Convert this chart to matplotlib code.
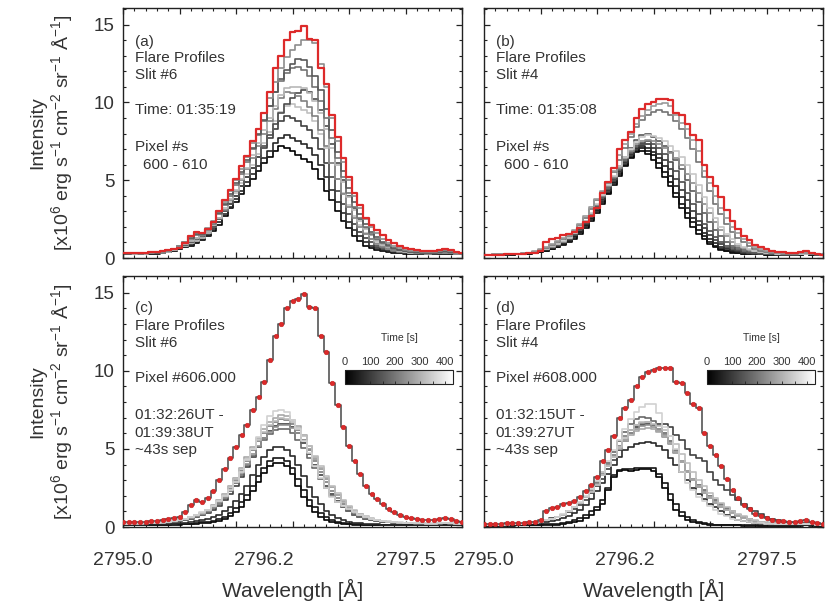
import matplotlib
matplotlib.use("Agg")
import matplotlib.pyplot as plt
from matplotlib.ticker import MultipleLocator
from matplotlib.colors import Normalize
from matplotlib.cm import ScalarMappable
from matplotlib.transforms import blended_transform_factory

plt.rcParams['font.family'] = ['Liberation Sans', 'DejaVu Sans']
plt.rcParams['mathtext.fontset'] = 'custom'
plt.rcParams['mathtext.rm'] = 'Liberation Sans'
plt.rcParams['mathtext.it'] = 'Liberation Sans:italic'
plt.rcParams['mathtext.bf'] = 'Liberation Sans:bold'

# ---------------- data ----------------
wavelength = [2795.00, 2795.05, 2795.10, 2795.15, 2795.20, 2795.25, 2795.30, 2795.35, 2795.40, 2795.45,
              2795.50, 2795.55, 2795.60, 2795.65, 2795.70, 2795.75, 2795.80, 2795.85, 2795.90, 2795.95,
              2796.00, 2796.05, 2796.10, 2796.15, 2796.20, 2796.25, 2796.30, 2796.35, 2796.40, 2796.45,
              2796.50, 2796.55, 2796.60, 2796.65, 2796.70, 2796.75, 2796.80, 2796.85, 2796.90, 2796.95,
              2797.00, 2797.05, 2797.10, 2797.15, 2797.20, 2797.25, 2797.30, 2797.35, 2797.40, 2797.45,
              2797.50, 2797.55, 2797.60, 2797.65, 2797.70, 2797.75, 2797.80, 2797.85, 2797.90, 2797.95,
              2798.00]

x_tick_values = [2795.0, 2796.25, 2797.5]
x_tick_labels = ["2795.0", "2796.2", "2797.5"]

# flare (peak) profile, slit 6, pixel 606, 01:35:19
red_slit6 = [0.30, 0.30, 0.31, 0.32, 0.34, 0.36, 0.40, 0.44, 0.50, 0.58,
             0.66, 0.95, 1.40, 1.70, 1.60, 1.85, 2.30, 3.00, 3.70, 4.40,
             5.10, 5.90, 6.55, 7.50, 8.30, 9.30, 10.70, 12.20, 13.00, 14.00,
             14.50, 14.60, 14.90, 14.10, 14.00, 12.20, 11.20, 9.20, 7.80, 6.40,
             5.20, 4.20, 3.40, 2.60, 2.10, 1.80, 1.50, 1.15, 0.95, 0.78,
             0.62, 0.55, 0.50, 0.46, 0.43, 0.43, 0.50, 0.60, 0.50, 0.38, 0.32]

# flare (peak) profile, slit 4, pixel 608, 01:35:08
red_slit4 = [0.20, 0.21, 0.21, 0.22, 0.23, 0.25, 0.26, 0.28, 0.30, 0.35,
             0.45, 1.00, 1.20, 1.30, 1.45, 1.55, 1.65, 1.90, 2.30, 2.70,
             3.20, 4.20, 4.90, 5.80, 7.00, 7.60, 8.10, 9.00, 9.60, 9.90,
             10.05, 10.20, 10.20, 10.15, 9.30, 9.20, 8.60, 7.90, 7.60, 6.00,
             5.20, 4.60, 3.90, 3.10, 2.40, 1.85, 1.40, 1.15, 0.85, 0.70,
             0.55, 0.45, 0.40, 0.37, 0.34, 0.32, 0.36, 0.42, 0.35, 0.26, 0.22]

# panel (a): slit 6, pixels 600-610 at 01:35:19
a0 = [0.25, 0.25, 0.25, 0.26, 0.26, 0.27, 0.28, 0.30, 0.36, 0.45,
      0.58, 0.68, 0.80, 0.94, 1.15, 1.40, 1.75, 2.15, 2.70, 3.20,
      3.60, 4.10, 4.60, 5.10, 5.60, 6.10, 6.50, 6.90, 7.20, 7.10,
      6.85, 6.60, 6.35, 6.20, 5.70, 5.10, 4.30, 3.70, 3.00, 2.40,
      1.90, 1.40, 1.10, 0.80, 0.62, 0.50, 0.42, 0.36, 0.32, 0.30,
      0.28, 0.27, 0.26, 0.26, 0.25, 0.25, 0.26, 0.28, 0.27, 0.25, 0.24]
a1 = [0.26, 0.26, 0.26, 0.27, 0.27, 0.28, 0.29, 0.31, 0.37, 0.47,
      0.60, 0.72, 0.86, 1.00, 1.20, 1.50, 1.85, 2.30, 2.80, 3.30,
      3.80, 4.30, 4.90, 5.40, 5.90, 6.40, 6.90, 7.40, 7.70, 7.90,
      7.70, 7.50, 7.30, 7.10, 6.60, 6.00, 5.20, 4.40, 3.60, 2.90,
      2.30, 1.80, 1.40, 1.05, 0.80, 0.62, 0.50, 0.42, 0.36, 0.32,
      0.30, 0.28, 0.27, 0.26, 0.26, 0.26, 0.28, 0.30, 0.28, 0.26, 0.25]
a2 = [0.26, 0.26, 0.27, 0.27, 0.28, 0.29, 0.30, 0.33, 0.39, 0.50,
      0.64, 0.78, 0.95, 1.10, 1.30, 1.60, 2.00, 2.50, 3.00, 3.50,
      4.00, 4.60, 5.20, 5.80, 6.50, 7.10, 7.70, 8.30, 8.80, 9.10,
      9.00, 8.80, 8.50, 8.20, 7.70, 7.00, 6.10, 5.20, 4.30, 3.50,
      2.80, 2.20, 1.70, 1.30, 1.00, 0.78, 0.62, 0.50, 0.42, 0.37,
      0.33, 0.30, 0.28, 0.27, 0.27, 0.28, 0.30, 0.32, 0.30, 0.27, 0.26]
a3 = [0.27, 0.27, 0.27, 0.28, 0.28, 0.29, 0.31, 0.34, 0.40, 0.50,
      0.65, 0.80, 0.95, 1.10, 1.30, 1.60, 2.00, 2.50, 3.00, 3.60,
      4.20, 4.80, 5.40, 6.00, 6.70, 7.40, 8.10, 8.80, 9.40, 9.80,
      9.90, 9.70, 9.50, 9.30, 8.80, 8.00, 7.10, 6.10, 5.10, 4.20,
      3.40, 2.70, 2.10, 1.60, 1.25, 0.95, 0.75, 0.60, 0.50, 0.43,
      0.38, 0.34, 0.31, 0.29, 0.28, 0.29, 0.31, 0.33, 0.31, 0.28, 0.27]
a4 = [0.27, 0.27, 0.28, 0.28, 0.29, 0.30, 0.32, 0.35, 0.42, 0.52,
      0.68, 0.85, 1.05, 1.25, 1.40, 1.65, 2.00, 2.50, 3.00, 3.50,
      4.00, 4.60, 5.20, 5.80, 6.50, 7.20, 7.90, 8.60, 9.30, 9.90,
      10.30, 10.60, 10.80, 10.70, 10.20, 9.50, 8.50, 7.30, 6.10, 5.00,
      4.00, 3.20, 2.50, 1.90, 1.50, 1.15, 0.90, 0.70, 0.57, 0.47,
      0.40, 0.35, 0.32, 0.30, 0.29, 0.30, 0.33, 0.36, 0.33, 0.29, 0.27]
a5 = [0.27, 0.27, 0.28, 0.28, 0.29, 0.30, 0.32, 0.35, 0.42, 0.52,
      0.70, 0.88, 1.10, 1.30, 1.45, 1.70, 2.10, 2.60, 3.10, 3.70,
      4.30, 5.00, 5.70, 6.40, 7.20, 8.00, 8.80, 9.60, 10.30, 10.70,
      10.60, 10.40, 10.10, 9.70, 9.10, 8.20, 7.20, 6.10, 5.10, 4.10,
      3.30, 2.60, 2.00, 1.55, 1.20, 0.92, 0.72, 0.58, 0.48, 0.41,
      0.36, 0.33, 0.30, 0.29, 0.28, 0.29, 0.32, 0.34, 0.31, 0.28, 0.27]
a6 = [0.28, 0.28, 0.28, 0.29, 0.30, 0.31, 0.33, 0.36, 0.43, 0.54,
      0.72, 0.90, 1.10, 1.30, 1.45, 1.70, 2.10, 2.60, 3.20, 3.80,
      4.40, 5.10, 5.80, 6.60, 7.40, 8.20, 9.00, 9.80, 10.50, 10.90,
      11.00, 11.00, 10.90, 10.60, 10.10, 9.30, 8.30, 7.10, 6.00, 4.90,
      3.90, 3.10, 2.40, 1.85, 1.45, 1.10, 0.85, 0.68, 0.55, 0.46,
      0.40, 0.35, 0.32, 0.30, 0.29, 0.30, 0.33, 0.36, 0.33, 0.29, 0.27]
a7 = [0.28, 0.28, 0.29, 0.29, 0.30, 0.32, 0.34, 0.38, 0.45, 0.56,
      0.75, 0.95, 1.20, 1.45, 1.50, 1.80, 2.20, 2.80, 3.40, 4.00,
      4.70, 5.40, 6.20, 7.00, 7.90, 8.80, 9.80, 10.70, 11.40, 11.90,
      12.20, 12.30, 12.10, 11.70, 11.00, 10.10, 9.00, 7.70, 6.40, 5.20,
      4.20, 3.30, 2.60, 2.00, 1.55, 1.20, 0.95, 0.75, 0.60, 0.50,
      0.43, 0.38, 0.34, 0.31, 0.30, 0.31, 0.35, 0.40, 0.35, 0.30, 0.28]
a8 = [0.28, 0.28, 0.29, 0.30, 0.31, 0.32, 0.35, 0.39, 0.46, 0.57,
      0.78, 1.00, 1.30, 1.55, 1.55, 1.85, 2.30, 2.90, 3.50, 4.10,
      4.80, 5.50, 6.30, 7.10, 8.00, 8.90, 9.80, 10.70, 11.50, 12.10,
      12.50, 12.80, 12.70, 12.30, 11.70, 10.80, 9.60, 8.20, 6.80, 5.60,
      4.50, 3.60, 2.80, 2.20, 1.70, 1.35, 1.05, 0.82, 0.65, 0.54,
      0.46, 0.40, 0.36, 0.33, 0.32, 0.33, 0.38, 0.45, 0.38, 0.32, 0.29]
a9 = [0.29, 0.29, 0.30, 0.31, 0.32, 0.34, 0.37, 0.41, 0.48, 0.58,
      0.80, 1.05, 1.40, 1.65, 1.60, 1.90, 2.40, 3.00, 3.60, 4.30,
      5.00, 5.70, 6.50, 7.40, 8.30, 9.30, 10.30, 11.30, 12.20, 12.90,
      13.40, 13.70, 14.00, 14.00, 13.80, 12.50, 11.00, 9.00, 7.50, 6.20,
      5.00, 4.00, 3.20, 2.50, 2.00, 1.60, 1.25, 0.95, 0.78, 0.64,
      0.54, 0.47, 0.42, 0.38, 0.36, 0.37, 0.44, 0.52, 0.44, 0.35, 0.30]
a_gray_levels = [0.0, 0.15, 0.25, 0.75, 0.30, 0.50, 0.72, 0.45, 0.35, 0.55]

# panel (b): slit 4, pixels 600-610 at 01:35:08
b0 = [0.20, 0.20, 0.20, 0.21, 0.21, 0.22, 0.23, 0.25, 0.28, 0.32,
      0.38, 0.45, 0.55, 0.68, 0.82, 1.00, 1.25, 1.55, 1.95, 2.40,
      2.90, 3.50, 4.10, 4.70, 5.30, 5.90, 6.40, 6.80, 6.90, 6.70,
      6.30, 5.80, 5.20, 4.60, 3.90, 3.20, 2.60, 2.00, 1.55, 1.20,
      0.90, 0.68, 0.52, 0.42, 0.35, 0.30, 0.27, 0.25, 0.24, 0.23,
      0.22, 0.22, 0.21, 0.21, 0.21, 0.21, 0.22, 0.23, 0.22, 0.21, 0.20]
b1 = [0.20, 0.20, 0.21, 0.21, 0.22, 0.22, 0.23, 0.25, 0.28, 0.33,
      0.40, 0.48, 0.58, 0.72, 0.88, 1.08, 1.35, 1.65, 2.05, 2.50,
      3.00, 3.60, 4.20, 4.80, 5.40, 6.00, 6.50, 6.90, 7.05, 6.90,
      6.60, 6.10, 5.50, 4.90, 4.20, 3.50, 2.90, 2.30, 1.80, 1.40,
      1.05, 0.80, 0.60, 0.47, 0.38, 0.32, 0.28, 0.26, 0.24, 0.23,
      0.22, 0.22, 0.21, 0.21, 0.21, 0.21, 0.22, 0.23, 0.22, 0.21, 0.20]
b2 = [0.20, 0.20, 0.21, 0.21, 0.22, 0.22, 0.23, 0.25, 0.29, 0.34,
      0.42, 0.50, 0.62, 0.76, 0.92, 1.12, 1.40, 1.70, 2.10, 2.60,
      3.10, 3.70, 4.30, 4.90, 5.50, 6.10, 6.60, 7.00, 7.20, 7.10,
      6.80, 6.40, 5.90, 5.30, 4.60, 3.90, 3.20, 2.60, 2.10, 1.60,
      1.25, 0.95, 0.72, 0.55, 0.44, 0.36, 0.31, 0.28, 0.26, 0.24,
      0.23, 0.22, 0.22, 0.21, 0.21, 0.21, 0.22, 0.24, 0.22, 0.21, 0.20]
b3 = [0.21, 0.21, 0.21, 0.22, 0.22, 0.23, 0.24, 0.26, 0.30, 0.35,
      0.44, 0.53, 0.65, 0.80, 0.96, 1.17, 1.45, 1.80, 2.20, 2.70,
      3.20, 3.80, 4.40, 5.00, 5.60, 6.20, 6.70, 7.10, 7.30, 7.35,
      7.10, 6.70, 6.30, 5.70, 5.10, 4.40, 3.70, 3.00, 2.40, 1.90,
      1.50, 1.15, 0.88, 0.67, 0.52, 0.42, 0.35, 0.30, 0.27, 0.25,
      0.24, 0.23, 0.22, 0.22, 0.21, 0.22, 0.23, 0.24, 0.23, 0.21, 0.20]
b4 = [0.21, 0.21, 0.22, 0.22, 0.23, 0.23, 0.24, 0.26, 0.30, 0.36,
      0.45, 0.55, 0.68, 0.84, 1.00, 1.20, 1.50, 1.85, 2.25, 2.75,
      3.30, 3.90, 4.50, 5.10, 5.70, 6.30, 6.80, 7.20, 7.40, 7.50,
      7.35, 7.05, 6.70, 6.20, 5.60, 4.90, 4.20, 3.50, 2.80, 2.20,
      1.75, 1.35, 1.05, 0.80, 0.62, 0.49, 0.40, 0.34, 0.30, 0.27,
      0.25, 0.24, 0.23, 0.22, 0.22, 0.22, 0.23, 0.25, 0.23, 0.22, 0.21]
b5 = [0.21, 0.21, 0.22, 0.22, 0.23, 0.24, 0.25, 0.27, 0.31, 0.37,
      0.47, 0.57, 0.70, 0.86, 1.02, 1.25, 1.55, 1.90, 2.30, 2.80,
      3.35, 3.95, 4.60, 5.20, 5.90, 6.50, 7.10, 7.60, 7.90, 7.95,
      7.80, 7.55, 7.20, 6.80, 6.30, 5.70, 5.00, 4.30, 3.60, 2.90,
      2.30, 1.80, 1.40, 1.05, 0.80, 0.62, 0.50, 0.41, 0.35, 0.31,
      0.28, 0.26, 0.25, 0.24, 0.23, 0.23, 0.24, 0.26, 0.24, 0.22, 0.21]
b6 = [0.22, 0.22, 0.22, 0.23, 0.23, 0.24, 0.25, 0.27, 0.31, 0.38,
      0.48, 0.58, 0.72, 0.88, 1.05, 1.28, 1.58, 1.95, 2.35, 2.85,
      3.40, 4.00, 4.60, 5.20, 5.80, 6.40, 6.90, 7.30, 7.55, 7.60,
      7.50, 7.30, 7.05, 6.75, 6.40, 5.95, 5.40, 4.80, 4.20, 3.50,
      2.90, 2.30, 1.80, 1.40, 1.05, 0.80, 0.62, 0.50, 0.42, 0.36,
      0.32, 0.29, 0.27, 0.25, 0.24, 0.24, 0.25, 0.27, 0.25, 0.23, 0.22]
b7 = [0.22, 0.22, 0.23, 0.23, 0.24, 0.24, 0.26, 0.28, 0.32, 0.39,
      0.50, 0.60, 0.74, 0.90, 1.08, 1.30, 1.60, 2.00, 2.40, 2.90,
      3.45, 4.05, 4.70, 5.30, 5.90, 6.50, 7.00, 7.45, 7.75, 7.90,
      7.85, 7.70, 7.50, 7.20, 6.90, 6.50, 6.00, 5.40, 4.70, 3.90,
      3.20, 2.60, 2.00, 1.55, 1.20, 0.92, 0.70, 0.55, 0.45, 0.38,
      0.33, 0.30, 0.27, 0.26, 0.25, 0.25, 0.26, 0.28, 0.26, 0.24, 0.22]
b8 = [0.22, 0.22, 0.23, 0.23, 0.24, 0.25, 0.27, 0.29, 0.34, 0.41,
      0.52, 0.65, 0.82, 1.00, 1.20, 1.42, 1.75, 2.15, 2.60, 3.15,
      3.70, 4.25, 4.80, 5.50, 6.30, 7.10, 7.80, 8.40, 8.90, 9.20,
      9.40, 9.50, 9.40, 9.20, 8.80, 8.30, 7.70, 7.00, 6.20, 5.20,
      4.30, 3.50, 2.80, 2.20, 1.70, 1.30, 1.00, 0.75, 0.58, 0.47,
      0.39, 0.34, 0.30, 0.28, 0.27, 0.27, 0.29, 0.32, 0.28, 0.25, 0.23]
b9 = [0.22, 0.22, 0.23, 0.24, 0.25, 0.26, 0.28, 0.30, 0.35, 0.43,
      0.55, 0.70, 0.90, 1.10, 1.30, 1.50, 1.80, 2.20, 2.70, 3.30,
      3.80, 4.30, 4.90, 5.60, 6.60, 7.30, 8.00, 8.60, 9.10, 9.50,
      9.75, 9.90, 9.95, 9.80, 9.20, 8.70, 8.30, 7.60, 6.90, 5.60,
      4.80, 4.00, 3.20, 2.60, 2.00, 1.60, 1.25, 0.95, 0.72, 0.57,
      0.46, 0.39, 0.34, 0.31, 0.29, 0.29, 0.31, 0.35, 0.30, 0.26, 0.23]
b_gray_levels = [0.0, 0.05, 0.12, 0.20, 0.30, 0.35, 0.55, 0.78, 0.45, 0.60]

# panel (c): slit 6, pixel 606, time series (~43 s cadence)
c0 = [0.12, 0.12, 0.12, 0.12, 0.13, 0.13, 0.13, 0.14, 0.14, 0.15,
      0.16, 0.17, 0.19, 0.21, 0.24, 0.27, 0.31, 0.38, 0.50, 0.70,
      0.97, 1.30, 1.70, 2.30, 2.90, 3.45, 3.90, 4.12, 4.12, 3.90,
      3.40, 2.65, 1.95, 1.35, 0.95, 0.65, 0.45, 0.33, 0.26, 0.21,
      0.18, 0.16, 0.15, 0.14, 0.13, 0.13, 0.12, 0.12, 0.12, 0.12,
      0.12, 0.12, 0.12, 0.12, 0.12, 0.12, 0.12, 0.13, 0.12, 0.12, 0.12]
c1 = [0.13, 0.13, 0.13, 0.13, 0.14, 0.14, 0.15, 0.15, 0.16, 0.17,
      0.18, 0.20, 0.22, 0.25, 0.29, 0.34, 0.40, 0.50, 0.65, 0.88,
      1.20, 1.60, 2.05, 2.65, 3.25, 3.80, 4.20, 4.40, 4.44, 4.25,
      3.80, 3.10, 2.40, 1.75, 1.25, 0.88, 0.62, 0.45, 0.34, 0.27,
      0.22, 0.19, 0.17, 0.16, 0.15, 0.14, 0.14, 0.13, 0.13, 0.13,
      0.13, 0.13, 0.13, 0.13, 0.13, 0.13, 0.13, 0.14, 0.13, 0.13, 0.13]
c2 = [0.15, 0.15, 0.15, 0.16, 0.16, 0.17, 0.18, 0.19, 0.20, 0.22,
      0.24, 0.27, 0.31, 0.36, 0.43, 0.52, 0.64, 0.80, 1.02, 1.30,
      1.65, 2.10, 2.65, 3.30, 3.95, 4.50, 4.90, 5.10, 5.13, 4.95,
      4.55, 3.95, 3.25, 2.55, 1.95, 1.45, 1.05, 0.76, 0.56, 0.42,
      0.33, 0.27, 0.23, 0.20, 0.18, 0.17, 0.16, 0.16, 0.15, 0.15,
      0.15, 0.15, 0.15, 0.15, 0.15, 0.15, 0.15, 0.16, 0.15, 0.15, 0.15]
c3 = [0.20, 0.20, 0.20, 0.21, 0.22, 0.23, 0.25, 0.27, 0.30, 0.34,
      0.38, 0.44, 0.52, 0.62, 0.74, 0.90, 1.10, 1.35, 1.70, 2.10,
      2.60, 3.20, 3.85, 4.50, 5.15, 5.70, 6.15, 6.45, 6.60, 6.60,
      6.40, 6.00, 5.40, 4.70, 4.00, 3.30, 2.65, 2.10, 1.65, 1.30,
      1.00, 0.78, 0.62, 0.50, 0.42, 0.36, 0.32, 0.29, 0.27, 0.25,
      0.24, 0.23, 0.22, 0.22, 0.21, 0.21, 0.22, 0.24, 0.22, 0.21, 0.20]
c5 = [0.20, 0.20, 0.21, 0.21, 0.22, 0.23, 0.25, 0.27, 0.30, 0.35,
      0.40, 0.47, 0.56, 0.67, 0.80, 0.98, 1.20, 1.48, 1.85, 2.30,
      2.80, 3.35, 3.95, 4.55, 5.10, 5.55, 5.95, 6.20, 6.30, 6.25,
      6.00, 5.60, 5.05, 4.40, 3.75, 3.10, 2.50, 2.00, 1.60, 1.28,
      1.00, 0.80, 0.64, 0.52, 0.43, 0.37, 0.32, 0.29, 0.27, 0.25,
      0.24, 0.23, 0.22, 0.22, 0.21, 0.21, 0.22, 0.24, 0.22, 0.21, 0.20]
c6 = [0.21, 0.21, 0.22, 0.22, 0.23, 0.24, 0.26, 0.28, 0.32, 0.37,
      0.43, 0.50, 0.60, 0.72, 0.86, 1.05, 1.28, 1.58, 1.98, 2.45,
      3.00, 3.60, 4.25, 4.90, 5.50, 6.00, 6.45, 6.75, 6.90, 6.85,
      6.60, 6.20, 5.60, 4.90, 4.20, 3.50, 2.85, 2.30, 1.85, 1.47,
      1.15, 0.92, 0.74, 0.60, 0.50, 0.42, 0.36, 0.32, 0.29, 0.27,
      0.25, 0.24, 0.23, 0.23, 0.22, 0.22, 0.23, 0.25, 0.23, 0.22, 0.21]
c7 = [0.21, 0.21, 0.22, 0.22, 0.23, 0.24, 0.26, 0.28, 0.32, 0.37,
      0.43, 0.50, 0.60, 0.72, 0.86, 1.05, 1.28, 1.58, 1.95, 2.40,
      2.90, 3.45, 4.05, 4.65, 5.20, 5.70, 6.10, 6.40, 6.50, 6.50,
      6.35, 6.05, 5.60, 5.00, 4.35, 3.70, 3.10, 2.55, 2.05, 1.65,
      1.30, 1.03, 0.82, 0.66, 0.54, 0.45, 0.38, 0.33, 0.30, 0.27,
      0.25, 0.24, 0.23, 0.23, 0.22, 0.22, 0.23, 0.25, 0.23, 0.22, 0.21]
c8 = [0.21, 0.21, 0.22, 0.22, 0.23, 0.24, 0.26, 0.29, 0.33, 0.38,
      0.45, 0.53, 0.63, 0.76, 0.92, 1.12, 1.38, 1.70, 2.10, 2.60,
      3.15, 3.80, 4.45, 5.10, 5.70, 6.25, 6.70, 7.00, 7.15, 7.10,
      6.85, 6.45, 5.90, 5.20, 4.50, 3.80, 3.15, 2.55, 2.05, 1.63,
      1.28, 1.00, 0.80, 0.64, 0.53, 0.44, 0.38, 0.33, 0.30, 0.27,
      0.25, 0.24, 0.23, 0.23, 0.22, 0.22, 0.23, 0.25, 0.23, 0.22, 0.21]
c9 = [0.21, 0.21, 0.22, 0.22, 0.23, 0.24, 0.26, 0.28, 0.32, 0.38,
      0.44, 0.52, 0.62, 0.75, 0.90, 1.10, 1.35, 1.65, 2.05, 2.55,
      3.10, 3.70, 4.35, 5.00, 5.55, 6.10, 6.50, 6.80, 6.95, 6.90,
      6.70, 6.35, 5.85, 5.20, 4.55, 3.90, 3.25, 2.65, 2.15, 1.72,
      1.36, 1.07, 0.85, 0.68, 0.56, 0.46, 0.39, 0.34, 0.31, 0.28,
      0.26, 0.25, 0.24, 0.23, 0.22, 0.22, 0.23, 0.25, 0.23, 0.22, 0.21]
c10 = [0.22, 0.22, 0.23, 0.23, 0.24, 0.25, 0.27, 0.30, 0.34, 0.40,
       0.46, 0.54, 0.65, 0.78, 0.93, 1.12, 1.35, 1.65, 2.00, 2.35,
       2.90, 3.55, 4.30, 5.00, 5.75, 6.50, 7.10, 7.45, 7.50, 7.35,
       6.85, 6.30, 5.50, 4.75, 3.90, 3.15, 2.50, 1.95, 1.60, 1.35,
       1.17, 0.98, 0.80, 0.64, 0.53, 0.45, 0.40, 0.36, 0.33, 0.30,
       0.28, 0.27, 0.26, 0.25, 0.24, 0.24, 0.25, 0.27, 0.25, 0.23, 0.22]
c_times = [0, 43, 86, 130, 216, 259, 302, 346, 389, 432]

# panel (d): slit 4, pixel 608, time series (~43 s cadence)
d0 = [0.08, 0.08, 0.08, 0.08, 0.09, 0.09, 0.10, 0.10, 0.11, 0.11,
      0.12, 0.13, 0.14, 0.16, 0.19, 0.23, 0.29, 0.37, 0.55, 0.80,
      1.07, 1.50, 2.35, 3.20, 3.60, 3.65, 3.60, 3.65, 3.70, 3.70,
      3.60, 3.20, 2.50, 1.75, 1.10, 0.70, 0.45, 0.32, 0.25, 0.20,
      0.16, 0.14, 0.12, 0.11, 0.10, 0.10, 0.09, 0.09, 0.09, 0.08,
      0.08, 0.08, 0.08, 0.08, 0.08, 0.08, 0.09, 0.10, 0.09, 0.08, 0.08]
d1 = [0.09, 0.09, 0.09, 0.10, 0.10, 0.10, 0.11, 0.12, 0.13, 0.14,
      0.15, 0.17, 0.19, 0.22, 0.27, 0.33, 0.42, 0.55, 0.75, 1.00,
      1.30, 1.75, 2.50, 3.30, 3.65, 3.70, 3.70, 3.75, 3.80, 3.80,
      3.75, 3.40, 2.80, 2.10, 1.45, 0.95, 0.62, 0.42, 0.30, 0.23,
      0.19, 0.16, 0.14, 0.13, 0.12, 0.11, 0.10, 0.10, 0.10, 0.09,
      0.09, 0.09, 0.09, 0.09, 0.09, 0.09, 0.10, 0.11, 0.10, 0.09, 0.09]
d2 = [0.12, 0.12, 0.13, 0.13, 0.14, 0.15, 0.16, 0.18, 0.20, 0.23,
      0.27, 0.32, 0.38, 0.46, 0.56, 0.70, 0.88, 1.10, 1.40, 1.80,
      2.30, 2.80, 3.40, 4.00, 4.50, 4.90, 5.10, 5.30, 5.40, 5.45,
      5.40, 5.20, 4.90, 4.40, 4.00, 3.50, 3.00, 2.50, 2.10, 1.80,
      1.50, 1.25, 1.00, 0.80, 0.62, 0.48, 0.38, 0.30, 0.25, 0.21,
      0.18, 0.16, 0.15, 0.14, 0.13, 0.13, 0.14, 0.15, 0.14, 0.13, 0.12]
d3 = [0.15, 0.15, 0.16, 0.16, 0.17, 0.18, 0.20, 0.22, 0.26, 0.30,
      0.36, 0.45, 0.55, 0.65, 0.78, 0.95, 1.15, 1.40, 1.75, 2.15,
      2.60, 3.10, 3.70, 4.30, 4.90, 5.50, 6.00, 6.40, 6.55, 6.60,
      6.55, 6.60, 6.60, 6.40, 5.90, 5.60, 5.00, 4.60, 4.40, 4.20,
      3.50, 3.00, 2.70, 2.40, 2.05, 1.75, 1.45, 1.20, 1.00, 0.82,
      0.66, 0.52, 0.42, 0.35, 0.30, 0.27, 0.27, 0.28, 0.26, 0.24, 0.22]
d5 = [0.14, 0.14, 0.15, 0.15, 0.16, 0.17, 0.19, 0.21, 0.24, 0.28,
      0.34, 0.42, 0.52, 0.64, 0.80, 1.00, 1.25, 1.55, 1.95, 2.40,
      2.90, 3.50, 4.10, 4.80, 5.50, 6.10, 6.60, 6.90, 7.05, 7.00,
      6.80, 6.50, 6.00, 5.50, 4.90, 4.20, 3.60, 3.10, 2.70, 2.35,
      2.00, 1.70, 1.45, 1.20, 1.00, 0.80, 0.64, 0.50, 0.40, 0.33,
      0.28, 0.24, 0.21, 0.19, 0.18, 0.17, 0.18, 0.20, 0.18, 0.16, 0.15]
d6 = [0.14, 0.14, 0.15, 0.15, 0.16, 0.17, 0.19, 0.21, 0.24, 0.28,
      0.34, 0.42, 0.52, 0.64, 0.80, 1.00, 1.25, 1.55, 1.90, 2.30,
      2.80, 3.40, 4.00, 4.60, 5.20, 5.80, 6.20, 6.50, 6.65, 6.70,
      6.55, 6.30, 5.90, 5.40, 4.80, 4.20, 3.60, 3.10, 2.65, 2.30,
      1.95, 1.65, 1.40, 1.15, 0.95, 0.77, 0.62, 0.50, 0.40, 0.33,
      0.28, 0.24, 0.21, 0.19, 0.18, 0.17, 0.18, 0.20, 0.18, 0.16, 0.15]
d7 = [0.14, 0.14, 0.15, 0.15, 0.16, 0.17, 0.19, 0.21, 0.24, 0.28,
      0.34, 0.42, 0.52, 0.64, 0.80, 1.00, 1.25, 1.55, 1.90, 2.30,
      2.75, 3.35, 3.95, 4.55, 5.10, 5.60, 6.00, 6.30, 6.45, 6.50,
      6.40, 6.15, 5.75, 5.30, 4.75, 4.15, 3.55, 3.00, 2.55, 2.20,
      1.85, 1.55, 1.30, 1.10, 0.90, 0.73, 0.59, 0.48, 0.39, 0.32,
      0.27, 0.23, 0.21, 0.19, 0.18, 0.17, 0.18, 0.20, 0.18, 0.16, 0.15]
d8 = [0.14, 0.14, 0.15, 0.15, 0.16, 0.17, 0.19, 0.21, 0.24, 0.28,
      0.34, 0.42, 0.52, 0.64, 0.80, 1.00, 1.25, 1.55, 1.90, 2.25,
      2.70, 3.30, 3.90, 4.50, 5.00, 5.50, 5.90, 6.15, 6.30, 6.35,
      6.30, 6.10, 5.80, 5.35, 4.80, 4.20, 3.60, 3.05, 2.60, 2.25,
      1.90, 1.60, 1.35, 1.12, 0.92, 0.75, 0.60, 0.48, 0.39, 0.32,
      0.27, 0.23, 0.21, 0.19, 0.18, 0.17, 0.18, 0.20, 0.18, 0.16, 0.15]
d9 = [0.15, 0.15, 0.15, 0.16, 0.16, 0.17, 0.19, 0.21, 0.24, 0.28,
      0.34, 0.42, 0.52, 0.64, 0.80, 1.00, 1.25, 1.55, 1.90, 2.25,
      2.70, 3.30, 3.90, 4.50, 5.10, 5.70, 6.20, 6.50, 6.70, 6.70,
      6.60, 6.45, 6.20, 5.80, 5.30, 4.70, 4.10, 3.50, 3.00, 2.60,
      2.20, 1.85, 1.55, 1.30, 1.05, 0.85, 0.68, 0.54, 0.43, 0.35,
      0.29, 0.25, 0.22, 0.20, 0.19, 0.18, 0.19, 0.21, 0.19, 0.17, 0.16]
d10 = [0.15, 0.15, 0.16, 0.16, 0.17, 0.18, 0.20, 0.22, 0.26, 0.30,
       0.36, 0.44, 0.54, 0.66, 0.82, 1.02, 1.28, 1.60, 2.00, 2.45,
       2.95, 3.55, 4.20, 4.90, 5.60, 6.30, 6.90, 7.35, 7.70, 7.85,
       7.85, 7.30, 6.40, 5.80, 5.00, 3.50, 2.80, 2.35, 1.95, 1.65,
       1.35, 1.08, 0.85, 0.68, 0.54, 0.44, 0.36, 0.30, 0.26, 0.23,
       0.21, 0.19, 0.18, 0.17, 0.17, 0.17, 0.18, 0.20, 0.18, 0.16, 0.15]
d_times = [0, 43, 86, 130, 216, 259, 302, 346, 389, 432]

panel_a_profiles = [a0, a1, a2, a3, a4, a5, a6, a7, a8, a9]
panel_b_profiles = [b0, b1, b2, b3, b4, b5, b6, b7, b8, b9]
panel_c_profiles = [c0, c1, c2, c3, c5, c6, c7, c8, c9, c10]
panel_d_profiles = [d0, d1, d2, d3, d5, d6, d7, d8, d9, d10]

panel_a_text = ["(a)", "Flare Profiles", "Slit #6", "Time: 01:35:19", "Pixel #s", "600 - 610"]
panel_b_text = ["(b)", "Flare Profiles", "Slit #4", "Time: 01:35:08", "Pixel #s", "600 - 610"]
panel_c_text = ["(c)", "Flare Profiles", "Slit #6", "Pixel #606.000", "01:32:26UT -", "01:39:38UT", "~43s sep"]
panel_d_text = ["(d)", "Flare Profiles", "Slit #4", "Pixel #608.000", "01:32:15UT -", "01:39:27UT", "~43s sep"]

time_max = 432
cbar_ticks = [0, 100, 200, 300, 400]

for arr in [red_slit6, red_slit4] + panel_a_profiles + panel_b_profiles + panel_c_profiles + panel_d_profiles:
    assert len(arr) == len(wavelength), len(arr)

# ---------------- figure ----------------
TXT = '#333333'
RED = '#dd2a2a'
fig = plt.figure(figsize=(8.27, 6.07), dpi=100)

W = 339 / 827
ax_a = fig.add_axes([123 / 827, 1 - 258 / 607, W, 250 / 607])
ax_b = fig.add_axes([484 / 827, 1 - 258 / 607, W, 250 / 607])
ax_c = fig.add_axes([123 / 827, 1 - 527 / 607, W, 251 / 607])
ax_d = fig.add_axes([484 / 827, 1 - 527 / 607, W, 251 / 607])


def style(ax, left_labels, bottom_labels):
    ax.set_xlim(2795.0, 2798.0)
    ax.set_ylim(0, 16.07)
    ax.xaxis.set_major_locator(MultipleLocator(0.5))
    ax.xaxis.set_minor_locator(MultipleLocator(0.1))
    ax.yaxis.set_major_locator(MultipleLocator(5))
    ax.yaxis.set_minor_locator(MultipleLocator(1))
    ax.tick_params(which='both', direction='in', top=True, right=True, color='#222222')
    ax.tick_params(which='major', length=4.5, width=0.9)
    ax.tick_params(which='minor', length=2.2, width=0.8)
    ax.tick_params(axis='x', labelbottom=False)
    ax.tick_params(axis='y', labelleft=left_labels, labelsize=13.5, labelcolor=TXT, pad=6)
    for s in ax.spines.values():
        s.set_color('#222222')
        s.set_linewidth(1.0)
    if left_labels:
        ax.set_ylabel("Intensity\n[x10$^6$ erg s$^{-1}$ cm$^{-2}$ sr$^{-1}$ Å$^{-1}$]",
                      fontsize=14, color=TXT, linespacing=1.15)
        ax.yaxis.set_label_coords(-0.142, 0.5)
    if bottom_labels:
        tr = blended_transform_factory(ax.transData, ax.transAxes)
        for xv, lab in zip(x_tick_values, x_tick_labels):
            ax.text(xv, -0.135, lab, transform=tr, ha='center', va='center', fontsize=14, color=TXT)
        ax.text(0.5, -0.25, "Wavelength [Å]", transform=ax.transAxes, ha='center', va='center',
                fontsize=15, color=TXT)


def top_text(ax, lines):
    ys = [0.865, 0.801, 0.732, 0.592, 0.445, 0.372]
    xs = [0.035, 0.035, 0.035, 0.035, 0.035, 0.059]
    for x, y, t in zip(xs, ys, lines):
        ax.text(x, y, t, transform=ax.transAxes, fontsize=11, color=TXT, ha='left', va='center')


def bottom_text(ax, lines):
    ys = [0.873, 0.80, 0.733, 0.594, 0.446, 0.375, 0.307]
    for y, t in zip(ys, lines):
        ax.text(0.035, y, t, transform=ax.transAxes, fontsize=11, color=TXT, ha='left', va='center')


gray = plt.get_cmap('gray')

for ax, profs, levels, red in [(ax_a, panel_a_profiles, a_gray_levels, red_slit6),
                               (ax_b, panel_b_profiles, b_gray_levels, red_slit4)]:
    for p, g in zip(profs, levels):
        ax.plot(wavelength, p, drawstyle='steps-mid', color=gray(g), lw=1.2)
    ax.plot(wavelength, red, drawstyle='steps-mid', color=RED, lw=1.6, zorder=5)

for ax, profs, times, red in [(ax_c, panel_c_profiles, c_times, red_slit6),
                              (ax_d, panel_d_profiles, d_times, red_slit4)]:
    for p, t in zip(profs, times):
        ax.plot(wavelength, p, drawstyle='steps-mid', color=gray(0.82 * t / time_max), lw=1.2)
    ax.plot(wavelength, red, drawstyle='steps-mid', color='#555555', lw=1.2, zorder=5)
    ax.plot(wavelength, red, ls='none', marker='o', ms=3.3, mfc=RED, mec='#c42020', mew=0.4, zorder=6)

style(ax_a, True, False)
style(ax_b, False, False)
style(ax_c, True, True)
style(ax_d, False, True)

top_text(ax_a, panel_a_text)
top_text(ax_b, panel_b_text)
bottom_text(ax_c, panel_c_text)
bottom_text(ax_d, panel_d_text)

# colour bars (time)
sm = ScalarMappable(norm=Normalize(0, time_max), cmap='gray')
for left in [345 / 827, 707 / 827]:
    cax = fig.add_axes([left, 1 - 384 / 607, 108 / 827, 14 / 607])
    cb = fig.colorbar(sm, cax=cax, orientation='horizontal')
    cb.set_ticks(cbar_ticks)
    cax.xaxis.set_minor_locator(MultipleLocator(50))
    cax.tick_params(axis='x', which='both', direction='in', top=False, bottom=True,
                    labeltop=True, labelbottom=False, length=2.5, width=0.6,
                    labelsize=8, labelcolor=TXT, pad=2, color='#222222')
    cb.outline.set_linewidth(0.8)
    cb.outline.set_edgecolor('#222222')
    fig.text(left + 54 / 827, 1 - 338 / 607, "Time [s]", fontsize=7.5, color=TXT,
             ha='center', va='center')

fig.savefig("out.png", dpi=100, facecolor='white')
